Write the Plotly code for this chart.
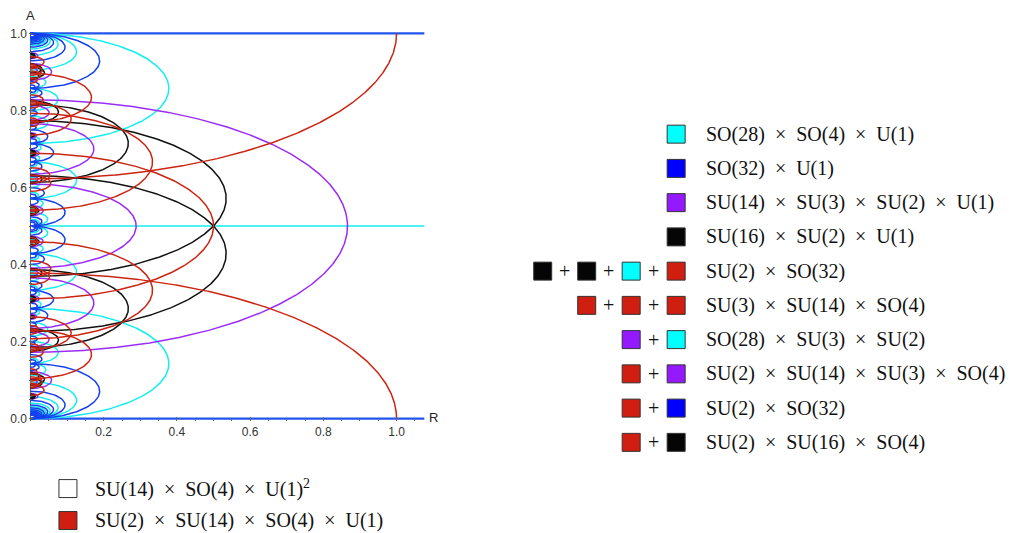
import numpy as np
import plotly.graph_objects as go

# ---------------- DATA ----------------
# Each enhancement curve is a half-ellipse  R^2 + 7 (A - a0)^2 = r^2  in the (R, A) plane,
# labelled by winding w and an integer numerator (centre a0 = num / (k*w), radius r = c / w).
# red  : SU(2) x SU(14) x SO(4) x U(1)      a0 = q/w,       r = 1/w
red_w = [1, 1, 2, 3, 3, 6, 6, 9, 9, 18, 18, 19, 19, 27, 27, 29, 29, 31, 31, 37, 37, 38, 38,
         47, 47, 53, 53, 54, 54, 57, 57, 57, 57, 58, 58]
red_q = [0, 1, 1, 1, 2, 1, 5, 2, 7, 7, 11, 7, 12, 2, 25, 5, 24, 3, 28, 4, 33, 7, 31,
         11, 36, 12, 41, 25, 29, 7, 26, 31, 50, 5, 53]
# purple : SU(14) x SU(3) x SU(2) x U(1)   a0 = p/(2w),    r = sqrt(21/28)/w
purple_w = [1, 3, 5, 5, 15, 15, 17, 17, 25, 25, 37, 37, 41, 41, 43, 43, 47, 47, 51, 51]
purple_p = [1, 3, 3, 7, 3, 27, 7, 27, 23, 27, 23, 51, 31, 51, 5, 81, 9, 85, 27, 75]
# black : SU(16) x SU(2) x U(1)            a0 = t/(7w),    r = sqrt(8/28)/w
black_w = [1, 1, 2, 2, 7, 7, 14, 14, 17, 17, 17, 17, 23, 23, 23, 23,
           31, 31, 31, 31, 34, 34, 34, 34, 41, 41, 41, 41, 46, 46, 46, 46,
           47, 47, 47, 47, 49, 49]
black_t = [3, 4, 4, 10, 10, 39, 10, 88, 11, 45, 74, 108, 18, 74, 87, 143,
           39, 101, 116, 178, 74, 108, 130, 164, 17, 24, 263, 270, 18, 74, 248, 304,
           87, 101, 228, 242, 108, 235]
# cyan : SO(28) x SO(4) x U(1)             a0 = t/(7w),    r = sqrt(4/28)/w
cyan_w = [1, 1, 3, 3, 3, 3, 5, 5, 5, 5, 7, 7, 8, 8, 8, 8, 9, 9, 9, 9,
          11, 11, 11, 11, 13, 13, 13, 13, 15, 15, 15, 15, 15, 15, 15, 15,
          16, 16, 16, 16, 17, 17, 17, 17, 19, 19, 19, 19, 21, 21, 21, 21]
cyan_t = [1, 6, 1, 8, 13, 20, 1, 6, 29, 34, 1, 48, 13, 27, 29, 43, 1, 8, 55, 62,
          1, 34, 43, 76, 1, 27, 64, 90, 1, 29, 34, 41, 64, 71, 76, 104,
          41, 55, 57, 71, 1, 50, 69, 118, 1, 20, 113, 132, 1, 50, 97, 146]
# blue : SO(32) x U(1)                     a0 = s/(14w),   r = sqrt(1/28)/w
blue_w = [1, 1, 2, 2, 2, 2, 3, 3, 3, 3, 4, 4, 4, 4, 5, 5, 5, 5,
          6, 6, 6, 6, 6, 6, 6, 6, 7, 7, 8, 8, 8, 8, 9, 9, 9, 9,
          10, 10, 10, 10, 10, 10, 10, 10, 11, 11, 11, 11,
          12, 12, 12, 12, 12, 12, 12, 12, 13, 13, 13, 13, 14, 14, 14, 14,
          15, 15, 15, 15, 15, 15, 15, 15]
blue_s = [1, 13, 1, 13, 15, 27, 1, 13, 29, 41, 1, 15, 41, 55, 1, 29, 41, 69,
          1, 13, 29, 41, 43, 55, 71, 83, 1, 97, 1, 15, 97, 111, 1, 55, 71, 125,
          1, 29, 41, 69, 71, 99, 111, 139, 1, 43, 111, 153,
          1, 41, 55, 71, 97, 113, 127, 167, 1, 27, 155, 181, 1, 97, 99, 195,
          1, 29, 41, 71, 139, 169, 181, 209]
# horizontal lines (w = 0)
blue_lines_A = [0.0, 1.0]
cyan_lines_A = [0.5]

x_ticks = [0.2, 0.4, 0.6, 0.8, 1.0]
y_ticks = [0.0, 0.2, 0.4, 0.6, 0.8, 1.0]

X = "\u2002×\u2002"
legend_right = [
    (["cyan"], "SO(28)" + X + "SO(4)" + X + "U(1)"),
    (["blue"], "SO(32)" + X + "U(1)"),
    (["purple"], "SU(14)" + X + "SU(3)" + X + "SU(2)" + X + "U(1)"),
    (["black"], "SU(16)" + X + "SU(2)" + X + "U(1)"),
    (["black", "black", "cyan", "red"], "SU(2)" + X + "SO(32)"),
    (["red", "red", "red"], "SU(3)" + X + "SU(14)" + X + "SO(4)"),
    (["purple", "cyan"], "SO(28)" + X + "SU(3)" + X + "SU(2)"),
    (["red", "purple"], "SU(2)" + X + "SU(14)" + X + "SU(3)" + X + "SO(4)"),
    (["red", "blue"], "SU(2)" + X + "SO(32)"),
    (["red", "black"], "SU(2)" + X + "SU(16)" + X + "SO(4)"),
]
legend_bottom = [
    ("white", "SU(14)" + X + "SO(4)" + X + "U(1)<sup>2</sup>"),
    ("red", "SU(2)" + X + "SU(14)" + X + "SO(4)" + X + "U(1)"),
]

# ---------------- STYLE ----------------
curve_col = {"red": "#cc2412", "purple": "#9b2cf6", "black": "#111111",
             "cyan": "#14eeee", "blue": "#1640ee"}
box_col = {"red": "#d01e10", "purple": "#9419ff", "black": "#050505",
           "cyan": "#00ffff", "blue": "#0000ff", "white": "#ffffff"}
SQ7 = np.sqrt(7.0)
XMAX = 1.0765


def arc_xy(a0, r):
    half = r / SQ7
    cmax = min(1.0, (1.0 - a0) / half)
    cmin = max(-1.0, (0.0 - a0) / half)
    if cmax <= cmin:
        return [], []
    p0, p1 = np.arccos(cmax), np.arccos(cmin)
    n = max(30, int(500 * r))
    phi = np.linspace(p0, p1, n)
    return list(r * np.sin(phi)), list(a0 + half * np.cos(phi))


def build(ws, nums, k, D):
    xs, ys = [], []
    c = np.sqrt(D / 28.0)
    for w, m in zip(ws, nums):
        x, y = arc_xy(m / (k * w), c / w)
        xs += x + [None]
        ys += y + [None]
    return xs, ys


fig = go.Figure()
for A in cyan_lines_A:
    fig.add_trace(go.Scatter(x=[0, XMAX], y=[A, A], mode="lines",
                             line=dict(color=curve_col["cyan"], width=1.7), hoverinfo="skip"))
for A in blue_lines_A:
    fig.add_trace(go.Scatter(x=[0, XMAX], y=[A, A], mode="lines",
                             line=dict(color="#2255ee", width=2.3), hoverinfo="skip"))

sets = [
    ("cyan", cyan_w, cyan_t, 7, 4),
    ("blue", blue_w, blue_s, 14, 1),
    ("purple", purple_w, purple_p, 2, 21),
    ("black", black_w, black_t, 7, 8),
    ("red", red_w, red_q, 1, 28),
]
for name, ws, nums, k, D in sets:
    xs, ys = build(ws, nums, k, D)
    fig.add_trace(go.Scatter(x=xs, y=ys, mode="lines", connectgaps=False,
                             line=dict(color=curve_col[name], width=1.5), hoverinfo="skip"))

# ---------------- LAYOUT ----------------
OFF = 0.0                          # body margin removed via post_script
W, H = 1011, 533
X0PX, X1PX = 30.0, 396.3           # page pixel of R=0 and R=1
Y0PX, Y1PX = 419.0, 33.0           # page pixel of A=0 and A=1
sx = X1PX - X0PX
sy = Y0PX - Y1PX
xr = [-0.004, XMAX]
yr = [-0.006, 1.006]
L = (X0PX - OFF) + xr[0] * sx
T = (Y1PX - OFF) - (yr[1] - 1.0) * sy
B = H - ((Y0PX - OFF) - yr[0] * sy)
plot_w = (xr[1] - xr[0]) * sx
Wp = W - L
Hp = H - T - B


def px(xp):
    return (xp - OFF - L) / Wp


def py(yp):
    return (H - B - (yp - OFF)) / Hp


fig.update_layout(
    width=W, height=H, autosize=False,
    margin=dict(l=L, r=0, t=T, b=B, pad=0),
    plot_bgcolor="white", paper_bgcolor="white", showlegend=False,
)
tickfont = dict(family="Liberation Sans, Arial, sans-serif", size=12, color="#333333")
fig.update_xaxes(domain=[0, plot_w / Wp], range=xr, tickvals=x_ticks,
                 ticktext=["%.1f" % v for v in x_ticks], ticks="inside", ticklen=4,
                 tickcolor="#666666", tickwidth=1, showgrid=False, zeroline=False,
                 showline=False, tickfont=tickfont, ticklabelstandoff=2,
                 minor=dict(ticks="inside", ticklen=2.5, dtick=0.05, tick0=0,
                            tickcolor="#666666", showgrid=False))
fig.update_yaxes(domain=[0, 1], range=yr, tickvals=y_ticks,
                 ticktext=["%.1f" % v for v in y_ticks], ticks="inside", ticklen=4,
                 tickcolor="#666666", tickwidth=1, showgrid=False, zeroline=False,
                 showline=False, tickfont=tickfont, ticklabelstandoff=1,
                 minor=dict(ticks="inside", ticklen=2.5, dtick=0.05, tick0=0,
                            tickcolor="#666666", showgrid=False))

shapes = []
ann = []
shapes.append(dict(type="line", xref="x", yref="y", x0=0, x1=0, y0=0, y1=1,
                   line=dict(color="#555555", width=1), layer="below"))
ann.append(dict(text="A", x=px(30), y=py(15), xref="paper", yref="paper",
                showarrow=False, xanchor="center", yanchor="middle",
                font=dict(family="Liberation Sans, Arial", size=13, color="#222")))
ann.append(dict(text="R", x=px(433), y=py(418), xref="paper", yref="paper",
                showarrow=False, xanchor="center", yanchor="middle",
                font=dict(family="Liberation Sans, Arial", size=13, color="#222")))

legfont = dict(family="Liberation Serif, Times New Roman, serif", size=20, color="#111111")
BOX = 18.0
box_x = [667.0, 622.0, 577.5, 533.5]   # right-most first
text_x = 704.0
row0, drow = 134.0, 34.3
for i, (cols, label) in enumerate(legend_right):
    yc = row0 + i * drow
    n = len(cols)
    for j, c in enumerate(cols):
        xl = box_x[n - 1 - j]
        shapes.append(dict(type="rect", xref="paper", yref="paper",
                           x0=px(xl), x1=px(xl + BOX), y0=py(yc + BOX / 2), y1=py(yc - BOX / 2),
                           fillcolor=box_col[c], line=dict(color="#333333", width=1)))
        if j < n - 1:
            xm = (xl + BOX + box_x[n - 2 - j]) / 2.0
            ann.append(dict(text="+", x=px(xm), y=py(yc), xref="paper", yref="paper",
                            showarrow=False, xanchor="center", yanchor="middle", font=legfont))
    ann.append(dict(text=label, x=px(text_x), y=py(yc), xref="paper", yref="paper",
                    showarrow=False, xanchor="left", yanchor="middle", font=legfont))

for i, (c, label) in enumerate(legend_bottom):
    yc = 489.0 + i * 32.0
    shapes.append(dict(type="rect", xref="paper", yref="paper",
                       x0=px(58.5), x1=px(58.5 + BOX), y0=py(yc + BOX / 2), y1=py(yc - BOX / 2),
                       fillcolor=box_col[c], line=dict(color="#333333", width=1)))
    ann.append(dict(text=label, x=px(93), y=py(yc), xref="paper", yref="paper",
                    showarrow=False, xanchor="left", yanchor="middle", font=legfont))

fig.update_layout(shapes=shapes, annotations=ann)
fig.write_html("out.html", config={"displayModeBar": False},
               post_script="document.body.style.margin='0';document.body.style.overflow='hidden';")
